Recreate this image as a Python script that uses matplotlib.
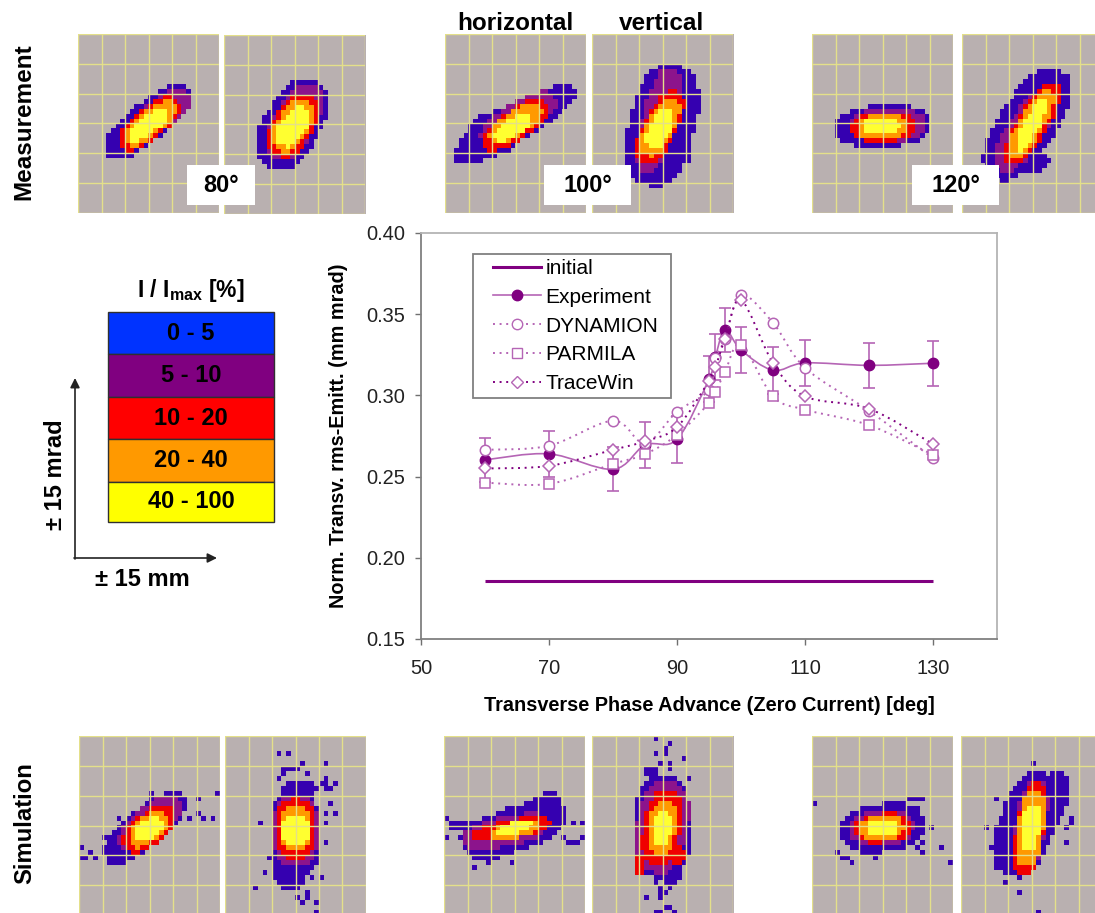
import numpy as np
import matplotlib
matplotlib.use("Agg")
import matplotlib.pyplot as plt
from matplotlib.colors import ListedColormap
from matplotlib.legend_handler import HandlerLine2D
from matplotlib.lines import Line2D
from matplotlib.patches import PathPatch, Rectangle
from matplotlib.path import Path

plt.rcParams['font.family'] = ['Liberation Sans', 'DejaVu Sans']
plt.rcParams['mathtext.fontset'] = 'custom'
plt.rcParams['mathtext.bf'] = 'Liberation Sans:bold'

# ---- chart data
phase = [60, 70, 80, 85, 90, 95, 96, 97.5, 100, 105, 110, 120, 130]
experiment = [.2603, .264, .2545, .2695, .273, .310, .3237, .3405, .328, .3155, .320, .3185, .3198]
exp_err = [.0135, .014, .0135, .0143, .0145, .0142, .0142, .0135, .0143, .0144, .014, .014, .014]
dynamion = [.2665, .269, .2844, .2705, .290, .3035, .323, .3345, .3617, .3447, .317, .2905, .2613]
parmila = [.2463, .2455, .2578, .2638, .2757, .2953, .3019, .3144, .3313, .2994, .2912, .2817, .2634]
tracewin = [.255, .2566, .2665, .2718, .2805, .309, .3175, .3348, .3587, .320, .2994, .2918, .27]
initial_x = [60, 130]
initial_y = [.186, .186]

# ---- colour key
key_labels = ['0 - 5', '5 - 10', '10 - 20', '20 - 40', '40 - 100']
key_colors = ['#0033ff', '#800080', '#ff0000', '#ff9900', '#ffff00']

# ---- phase-space panels on a 30 x 36 cell raster (column, row from top)
# blobs: (level, centre col, centre row, semi-long, semi-short, angle)
M80H = [(1, 15, 17.6, 11, 4.0, 37), (2, 17, 16.6, 8, 3.2, 37), (3, 15.2, 18, 7.6, 3.2, 38),
        (4, 15.2, 18, 6.4, 2.6, 38), (5, 15, 18.2, 5, 1.9, 38)]
M80V = [(1, 14.4, 18, 10, 6, 58), (1, 17.5, 11.5, 3.2, 1.8, 30), (2, 15, 17.4, 8.5, 4.4, 58),
        (3, 14.6, 18.2, 7, 4.2, 55), (4, 14.6, 18.2, 5.8, 3.4, 55), (5, 14.6, 18.4, 4.6, 2.6, 55)]
M100H = [(1, 14.9, 18.1, 14.5, 3.6, 29), (1, 10.5, 20, 6, 4.4, 20), (2, 15.6, 17, 9, 3.4, 30),
         (3, 15, 18.3, 8, 3.1, 32), (4, 15, 18, 6.4, 2.4, 32), (5, 14.5, 18.8, 4.6, 1.7, 32)]
M100V = [(1, 14.8, 18.3, 12.5, 7, 75), (1, 8.5, 25.2, 1.6, 1.6, 0), (1, 19.8, 24.8, 1.6, 1.6, 0),
         (2, 14, 17.3, 11, 3.5, 75), (3, 14.4, 18.7, 8.2, 3.5, 62),
         (4, 14.4, 18.7, 6.4, 2.9, 62), (5, 14.4, 19, 4.6, 2.1, 62)]
M120H = [(1, 15.1, 18.5, 10, 4.3, 3), (2, 16, 18.3, 8, 3.6, 3), (3, 15.1, 18.7, 7, 3.0, 3),
         (4, 15, 18.7, 5.4, 2.6, 3), (5, 14.7, 18.5, 3.9, 1.8, 3)]
M120V = [(1, 13.9, 18.1, 13, 6, 55), (1, 16.3, 26, 2.6, 1.7, 30), (2, 13.6, 19.3, 10, 3.8, 55),
         (3, 15, 18, 9.5, 3.2, 58), (4, 14.6, 18.3, 8.2, 2.5, 58), (5, 14.8, 18.4, 5.8, 1.6, 62)]
S80H = [(1, 14.1, 18.4, 10.5, 3.9, 38), (2, 15, 17.6, 7.8, 3.5, 38), (3, 14.8, 18.7, 6.4, 3.3, 38),
        (4, 14.8, 18.7, 4.8, 2.6, 38), (5, 14.8, 18.7, 3.4, 1.9, 38)]
S80V = [(1, 14.9, 19.7, 9, 5.4, 90), (1, 13.8, 27.2, 3.6, 3.6, 0), (1, 16, 10.5, 3.6, 1.6, 0),
        (2, 14.9, 19, 7.5, 5, 90), (3, 14.9, 18.7, 6.3, 4.4, 90),
        (4, 15.1, 18.7, 4.6, 3.4, 90), (5, 15.1, 18.9, 3.2, 3, 30)]
S100H = [(1, 15, 18.8, 11.5, 4.6, 18), (1, 4, 18, 3, 1.2, 0), (1, 21, 13.7, 3.5, 2, 20),
         (2, 13.2, 19.2, 9.5, 3, 12), (3, 14.6, 18.7, 8.5, 1.9, 10),
         (4, 15, 19, 5.5, 1.8, 15), (5, 15, 18.5, 3.7, 1.3, 18)]
S100V = [(1, 14.8, 18.2, 10.5, 6.2, 90), (1, 13, 8.6, 3, 1.3, 90), (1, 16.6, 27.7, 2.2, 2.2, 0),
         (2, 14.8, 18.2, 9.5, 5.5, 80), (3, 14.8, 18.5, 8, 4, 80), (3, 10, 25.6, 2, 1.2, 90),
         (3, 18.4, 24.3, 2, 1.2, 90), (4, 14.8, 18.5, 5.5, 3, 80), (5, 14.8, 18.5, 3.5, 2.1, 80)]
S120H = [(1, 15.1, 18.5, 9, 5, 8), (2, 14.8, 18.5, 6.8, 3.6, 5), (3, 15.1, 18.5, 6, 3, 5),
         (4, 14.8, 18.5, 4.8, 2.5, 5), (5, 15, 18.5, 3.2, 1.9, 5)]
S120V = [(1, 14, 17.8, 11, 5.8, 70), (1, 19.3, 13, 6, 3.2, 70), (1, 10.4, 24, 3.5, 3, 0),
         (2, 14.7, 18.5, 10, 3.3, 80), (3, 14.7, 18.8, 9.5, 3, 80),
         (4, 14.8, 18.5, 8, 2.7, 82), (5, 14.8, 18.5, 5, 1.9, 82)]

# isolated lowest-level cells (column, row)
S80H_STRAY = [(0, 22), (2, 23), (0, 24), (1, 24), (3, 24), (6, 25), (8, 25), (15, 11), (15, 12), (25, 12),
              (29, 11), (25, 15), (26, 16), (28, 16), (23, 16), (8, 16), (5, 20)]
S80V_STRAY = [(11, 3), (13, 3), (16, 5), (21, 5), (13, 6), (14, 6), (12, 7), (12, 6), (15, 6), (17, 7), (11, 8),
              (21, 8), (14, 9), (20, 9), (21, 9), (23, 9), (22, 10), (21, 10), (22, 13), (21, 15), (23, 15),
              (7, 17), (21, 17), (21, 21), (9, 24), (19, 25), (8, 27), (20, 28), (18, 28), (6, 30), (13, 30),
              (17, 31), (15, 32), (17, 32), (16, 33), (19, 33), (19, 35)]
S100H_STRAY = [(0, 16), (1, 17), (3, 20), (0, 20), (27, 17), (29, 17), (29, 20), (27, 21), (26, 21), (28, 21),
               (25, 20), (14, 25), (23, 11), (6, 26), (10, 24), (9, 25), (24, 12)]
S100V_STRAY = [(13, 0), (16, 1), (13, 3), (15, 2), (15, 3), (19, 4), (16, 5), (14, 5), (11, 6), (11, 7), (12, 7),
               (16, 6), (20, 8), (14, 31), (16, 30), (15, 31), (11, 32), (14, 32), (16, 34), (15, 34), (14, 35),
               (13, 35), (17, 35), (13, 28), (13, 29), (14, 30)]
S120H_STRAY = [(0, 13), (20, 12), (21, 12), (22, 12), (23, 12), (25, 18), (23, 21), (22, 22), (23, 23), (27, 22),
               (29, 25), (5, 23), (8, 25), (6, 24), (7, 24), (13, 24)]
S120V_STRAY = [(15, 5), (15, 7), (13, 8), (14, 9), (17, 9), (7, 12), (10, 13), (7, 18), (5, 18), (9, 17), (6, 22),
               (7, 26), (9, 29), (12, 31), (16, 35), (22, 18), (23, 17), (22, 21), (23, 16)]

panel_boxes = [
    (78, 34, M80H, []), (224, 35, M80V, []),
    (445, 34, M100H, []), (592, 34, M100V, []),
    (812, 34, M120H, []), (962, 34, M120V, []),
    (79, 736, S80H, S80H_STRAY), (225, 736, S80V, S80V_STRAY),
    (444, 736, S100H, S100H_STRAY), (592, 736, S100V, S100V_STRAY),
    (812, 736, S120H, S120H_STRAY), (961, 736, S120V, S120V_STRAY),
]
W, H = 1095, 913
PW, PH = 141, 179
cell_cmap = ListedColormap(['#b9b0b0', '#3500b0', '#8c148c', '#f00000', '#ff9900', '#ffff30'])

fig = plt.figure(figsize=(W / 100, H / 100), dpi=100, facecolor='white')


def px_axes(x0, y0, x1, y1, **kw):
    return fig.add_axes([x0 / W, 1 - y1 / H, (x1 - x0) / W, (y1 - y0) / H], **kw)


def raster(blobs, stray):
    grid = np.zeros((36, 30), dtype=int)
    cols, rows = np.meshgrid(np.arange(30) + .5, np.arange(36) + .5)
    for level, cx, cy, a, b, angle in blobs:
        t = np.deg2rad(angle)
        dx, dy = cols - cx, cy - rows
        u = dx * np.cos(t) + dy * np.sin(t)
        v = -dx * np.sin(t) + dy * np.cos(t)
        grid[(np.abs(u / a) ** 2.5 + np.abs(v / b) ** 2.5 <= 1) & (grid < level)] = level
    for c, r in stray:
        if grid[r, c] == 0:
            grid[r, c] = 1
    return grid


for x0, y0, blobs, stray in panel_boxes:
    ax = px_axes(x0, y0, x0 + PW, y0 + PH)
    ax.imshow(raster(blobs, stray), cmap=cell_cmap, vmin=0, vmax=5, extent=[0, 30, 36, 0],
              aspect='auto', interpolation='nearest')
    for c in range(0, 31, 5):
        ax.axvline(c, color='#e4e08a', lw=1.0, clip_on=True)
    for r in range(0, 37, 6):
        ax.axhline(r, color='#e4e08a', lw=1.0, clip_on=True)
    ax.set_xlim(0, 30)
    ax.set_ylim(36, 0)
    ax.axis('off')

# ---- overlay in pixel coordinates
ov = fig.add_axes([0, 0, 1, 1], zorder=5)
ov.set_xlim(0, W)
ov.set_ylim(H, 0)
ov.axis('off')
ov.patch.set_alpha(0)

bold = dict(fontweight='bold', color='black', ha='center', va='center')
ov.text(515, 23, 'horizontal', fontsize=17.5, **bold)
ov.text(662, 23, 'vertical', fontsize=17.5, **bold)
ov.text(24, 122, 'Measurement', fontsize=17.5, rotation=90, **bold)
ov.text(25, 823, 'Simulation', fontsize=17.2, rotation=90, **bold)
for (x0, x1, lab) in [(187, 255, '80°'), (544, 631, '100°'), (912, 999, '120°')]:
    ov.add_patch(Rectangle((x0, 165), x1 - x0, 40, fc='white', ec='none'))
    ov.text((x0 + x1) / 2, 185.5, lab, fontsize=17, **bold)

ov.text(191, 291, r'I / I$_{\mathbf{max}}$ [%]', fontsize=16.5, **bold)
edges = [312, 354.5, 397, 439.5, 482, 522]
for i, (lab, col) in enumerate(zip(key_labels, key_colors)):
    ov.add_patch(Rectangle((108, edges[i]), 166, edges[i + 1] - edges[i], fc=col, ec='#303030', lw=1))
    ov.text(191, (edges[i] + edges[i + 1]) / 2, lab, fontsize=17, **bold)
ov.annotate('', xy=(75, 378), xytext=(75, 559),
            arrowprops=dict(arrowstyle='-|>', color='#222222', lw=1.2, shrinkA=0, shrinkB=0, mutation_scale=14))
ov.annotate('', xy=(217, 558), xytext=(74, 558),
            arrowprops=dict(arrowstyle='-|>', color='#222222', lw=1.2, shrinkA=0, shrinkB=0, mutation_scale=14))
ov.text(55, 475, '± 15 mrad', fontsize=17, rotation=90, **bold)
ov.text(142, 580, '± 15 mm', fontsize=17, **bold)

# ---- main chart
ax = px_axes(421, 233, 997, 639, zorder=2)
ax.set_xlim(50, 140)
ax.set_ylim(.15, .40)
ax.set_xticks([50, 70, 90, 110, 130])
ax.set_yticks([.15, .20, .25, .30, .35, .40])
ax.set_yticklabels(['%.2f' % v for v in [.15, .20, .25, .30, .35, .40]])
ax.tick_params(labelsize=14.4, length=4.5, width=1, color='#707070', labelcolor='#222222')
ax.tick_params(axis='y', pad=7)
ax.tick_params(axis='x', pad=10)
for name, s in ax.spines.items():
    s.set_color('#808080' if name in ('left', 'bottom') else '#b4b4b4')
    s.set_linewidth(1.3)
ax.set_xlabel('Transverse Phase Advance (Zero Current) [deg]', fontsize=14.3, fontweight='bold', labelpad=13)
ax.set_ylabel('Norm. Transv. rms-Emitt. (mm mrad)', fontsize=14.3, fontweight='bold', labelpad=13)

LIGHT = '#b565b5'
DARK = '#800080'


def smooth(xs, ys, **kw):
    """Draw a curve through the points the way spreadsheet charts smooth them."""
    p = np.column_stack([xs, ys])
    verts, codes = [p[0]], [Path.MOVETO]
    for i in range(len(p) - 1):
        p0 = p[max(i - 1, 0)]
        p3 = p[min(i + 2, len(p) - 1)]
        verts += [p[i] + (p[i + 1] - p0) / 6, p[i + 1] - (p3 - p[i]) / 6, p[i + 1]]
        codes += [Path.CURVE4] * 3
    ax.add_patch(PathPatch(Path(verts, codes), fc='none', **kw))


ax.plot(initial_x, initial_y, color=DARK, lw=2.2, solid_capstyle='butt', zorder=2)
smooth(phase, experiment, ec=LIGHT, lw=1.2, zorder=2)
ax.errorbar(phase, experiment, yerr=exp_err, fmt='none', ecolor=LIGHT, elinewidth=1.2, capsize=4.5, capthick=1.2, zorder=2)
ax.plot(phase, experiment, ls='none', marker='o', ms=7.5, mfc=DARK, mec=DARK, zorder=3)
dots = (0, (1, 2.4))
smooth(phase, dynamion, ec=LIGHT, lw=1.4, ls=dots, zorder=4)
ax.plot(phase, dynamion, ls='none', marker='o', ms=7.5, mfc='white', mec=LIGHT, mew=1.1, zorder=4)
smooth(phase, parmila, ec=LIGHT, lw=1.4, ls=dots, zorder=5)
ax.plot(phase, parmila, ls='none', marker='s', ms=7.5, mfc='white', mec=LIGHT, mew=1.1, zorder=5)
smooth(phase, tracewin, ec=DARK, lw=1.4, ls=dots, zorder=6)
ax.plot(phase, tracewin, ls='none', marker='D', ms=6.5, mfc='white', mec=LIGHT, mew=1.1, zorder=6)


class InsetLine(HandlerLine2D):
    """Legend key whose line starts a little inside its slot."""

    def create_artists(self, legend, orig, xd, yd, w, h, fs, trans):
        arts = super().create_artists(legend, orig, xd, yd, w, h, fs, trans)
        arts[0].set_xdata([-xd + .24 * w, -xd + .62 * w, -xd + w])
        return arts


handles = [
    Line2D([], [], color=DARK, lw=2.2),
    Line2D([], [], color=LIGHT, lw=1.2, marker='o', ms=7.5, mfc=DARK, mec=DARK),
    Line2D([], [], color=LIGHT, lw=1.4, ls=dots, marker='o', ms=7.5, mfc='white', mec=LIGHT),
    Line2D([], [], color=LIGHT, lw=1.4, ls=dots, marker='s', ms=7.5, mfc='white', mec=LIGHT),
    Line2D([], [], color=DARK, lw=1.4, ls=dots, marker='D', ms=6.5, mfc='white', mec=LIGHT),
]
leg = ax.legend(handles, ['initial', 'Experiment', 'DYNAMION', 'PARMILA', 'TraceWin'],
                loc='upper left', bbox_to_anchor=((473 - 421) / 576, 1 - (398 - 233) / 406, 198 / 576, 144 / 406),
                mode='expand', borderaxespad=0, handler_map={h: InsetLine() for h in handles},
                fontsize=15, frameon=True, fancybox=False, framealpha=1, edgecolor='#808080',
                labelspacing=.47, handlelength=3, handletextpad=.24, borderpad=.24)
leg.get_frame().set_linewidth(1.3)
leg.set_zorder(10)

fig.savefig('out.png', dpi=100, facecolor='white')
